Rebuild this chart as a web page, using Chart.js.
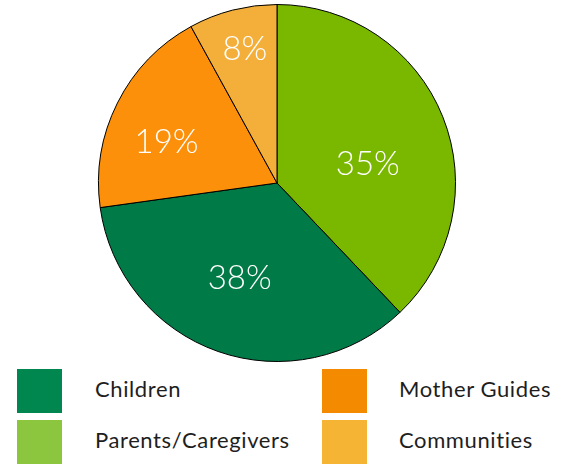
<!DOCTYPE html>
<html>
<head>
<meta charset="utf-8">
<script src="https://cdn.jsdelivr.net/npm/chart.js@4.4.1/dist/chart.umd.min.js"></script>
<style>
  html, body { margin: 0; padding: 0; background: #fff; width: 568px; height: 464px; overflow: hidden; }
  #wrap { position: relative; width: 568px; height: 464px; }
  #pie { position: absolute; left: 0; top: 0; }
  .leg { position: absolute; font-family: Lato, "Open Sans", sans-serif; font-weight: 400; font-size: 22px; letter-spacing: 0.6px; color: #1e1e1e; white-space: nowrap; }
  .sw { position: absolute; width: 45px; height: 44px; }
</style>
</head>
<body>
<div id="wrap">
  <canvas id="pie" width="568" height="366"></canvas>
</div>
<script>
// Slice order: clockwise from 12 o'clock
const categories = ["Parents/Caregivers", "Children", "Mother Guides", "Communities"];
const sliceValues = [37.9, 34.9, 19.2, 8.0];
const sliceLabels = ["35%", "38%", "19%", "8%"];
const sliceColors = ["#7ab800", "#007a47", "#fd900b", "#f3af39"];

// Legend (2 x 2 grid)
const legendCategories = ["Children", "Mother Guides", "Parents/Caregivers", "Communities"];
const legendColors = ["#00874f", "#f38a00", "#8cc63e", "#f6b435"];

// Label placement relative to pie centre: [angle in degrees, fraction of radius]
const labelPlacement = [[-11.9, 0.52], [111.3, 0.575], [200.4, 0.66], [256.5, 0.77]];

const labelPlugin = {
  id: 'sliceLabels',
  afterDatasetsDraw(chart) {
    const meta = chart.getDatasetMeta(0);
    const ctx = chart.ctx;
    ctx.save();
    ctx.fillStyle = '#ffffff';
    ctx.font = '300 33px Lato, "Open Sans", sans-serif';
    ctx.textAlign = 'center';
    ctx.textBaseline = 'middle';
    meta.data.forEach((arc, i) => {
      const p = arc.getProps(['x', 'y', 'outerRadius'], true);
      const a = labelPlacement[i][0] * Math.PI / 180;
      const r = labelPlacement[i][1] * p.outerRadius;
      ctx.fillText(sliceLabels[i], p.x + r * Math.cos(a), p.y + r * Math.sin(a));
    });
    ctx.restore();
  }
};

new Chart(document.getElementById('pie'), {
  type: 'pie',
  data: {
    labels: categories,
    datasets: [{
      data: sliceValues,
      backgroundColor: sliceColors,
      borderColor: '#000000',
      borderWidth: 1
    }]
  },
  options: {
    responsive: false,
    animation: false,
    layout: { padding: { left: 0, right: 14, top: 4, bottom: 4 } },
    plugins: { legend: { display: false }, tooltip: { enabled: false } }
  },
  plugins: [labelPlugin]
});

// Build legend
const wrap = document.getElementById('wrap');
const cols = [[17, 95], [322, 399]];
const rows = [369, 420];
legendCategories.forEach((name, i) => {
  const c = cols[i % 2], r = rows[Math.floor(i / 2)];
  const sw = document.createElement('div');
  sw.className = 'sw';
  sw.style.left = c[0] + 'px';
  sw.style.top = r + 'px';
  sw.style.background = legendColors[i];
  wrap.appendChild(sw);
  const t = document.createElement('div');
  t.className = 'leg';
  t.textContent = name;
  t.style.left = c[1] + 'px';
  t.style.top = (r + 19) + 'px';
  t.style.transform = 'translateY(-50%)';
  wrap.appendChild(t);
});
</script>
</body>
</html>
